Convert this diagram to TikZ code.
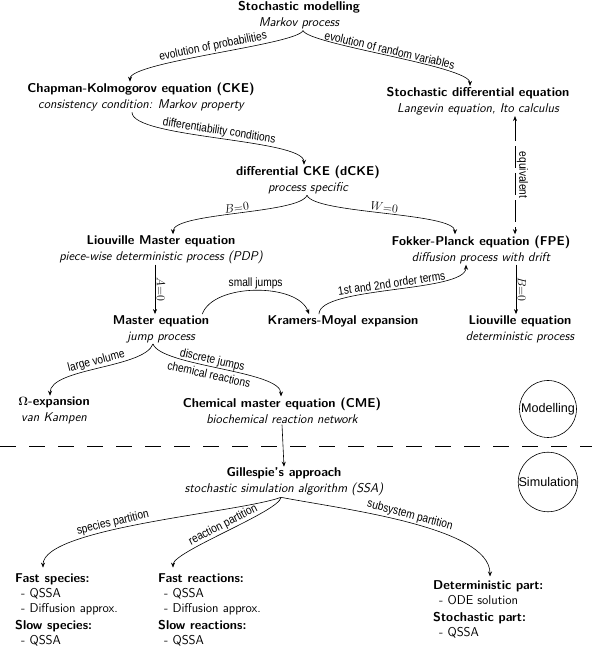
\documentclass[tikz,border=0pt]{standalone}
\usepackage[no-math]{fontspec}
\newfontfamily\lblfont[FakeStretch=0.85]{Liberation Sans}
\newfontfamily\circfont{Liberation Sans}
\usetikzlibrary{arrows.meta}
\newcommand\twoline[2]{{\bfseries #1}\\{\itshape #2}}
\begin{document}
\begin{tikzpicture}[x=1pt,y=1pt,
  every node/.style={inner sep=1pt},
  main/.style={align=center, font=\sffamily\fontsize{12.8}{16}\selectfont},
  lbl/.style={font=\lblfont\fontsize{12}{15.5}\selectfont, inner sep=1.5pt},
  mlbl/.style={font=\fontsize{12.5}{14}\selectfont, inner sep=1.5pt},
  arr/.style={-{Stealth[length=5pt,width=4pt]}, line width=0.6pt},
  circ/.style={circle, draw, line width=0.6pt, minimum size=57pt, inner sep=0pt, font=\circfont\fontsize{12.6}{14}\selectfont},
  lst/.style={align=left, anchor=north west, inner sep=0pt, font=\sffamily\fontsize{12.8}{15}\selectfont},
]
\useasboundingbox (0,0) rectangle (592,654);

\node[main] (sm) at (299,638.5) {\twoline{Stochastic modelling}{Markov process}};
\node[main] (cke) at (141,557) {\twoline{Chapman-Kolmogorov equation (CKE)}{consistency condition: Markov property}};
\node[main] (sde) at (478,553) {\twoline{Stochastic differential equation}{Langevin equation, Ito calculus}};
\node[main] (dcke) at (308,474) {\twoline{differential CKE (dCKE)}{process specific}};
\node[main] (lme) at (161,404.5) {\twoline{Liouville Master equation}{piece-wise deterministic process (PDP)}};
\node[main] (fpe) at (481,404.5) {\twoline{Fokker-Planck equation (FPE)}{diffusion process with drift}};
\node[main] (me) at (161,325) {\twoline{Master equation}{jump process}};
\node[main] (km) at (343,333) {\bfseries Kramers-Moyal expansion};
\node[main] (le) at (520,325) {\twoline{Liouville equation}{deterministic process}};
\node[main] (om) at (54,243.5) {\twoline{$\mathbf{\Omega}$-expansion}{van Kampen}};
\node[main] (cme) at (282,243.5) {\twoline{Chemical master equation (CME)}{biochemical reaction network}};
\node[main] (gil) at (284,172) {\twoline{Gillespie's approach}{stochastic simulation algorithm (SSA)}};

\node[circ] (mod) at (548,245) {Modelling};
\node[circ] (sim) at (548,172) {Simulation};

\coordinate (sepL) at (0,208);
\coordinate (sepR) at (592,208);
\draw[dash pattern=on 16pt off 13pt, line width=0.7pt] (sepL) -- (sepR);

\node[lst] (c1) at (15,80.4) {\textbf{Fast species:}\\\hspace*{6pt}- QSSA\\\hspace*{6pt}- Diffusion approx.\\[2pt]\textbf{Slow species:}\\\hspace*{6pt}- QSSA};
\node[lst] (c2) at (158,80.4) {\textbf{Fast reactions:}\\\hspace*{6pt}- QSSA\\\hspace*{6pt}- Diffusion approx.\\[2pt]\textbf{Slow reactions:}\\\hspace*{6pt}- QSSA};
\node[lst] (c3) at (433,73.5) {\textbf{Deterministic part:}\\\hspace*{6pt}- ODE solution\\[2pt]\textbf{Stochastic part:}\\\hspace*{6pt}- QSSA};

% top split
\draw[arr] ([xshift=4pt]sm.south) .. controls +(-110:15) and +(90:20) .. node[lbl,midway,above,sloped]{evolution of probabilities} ([xshift=-11pt]cke.north);
\draw[arr] ([xshift=4pt]sm.south) .. controls +(-70:15) and +(90:20) .. node[lbl,midway,above,sloped]{evolution of random variables} ([xshift=-8pt]sde.north);
% CKE -> dCKE
\draw[arr] ([xshift=-9pt]cke.south) .. controls +(-90:26) and +(90:26) .. node[lbl,midway,above,sloped]{differentiability conditions} ([xshift=-4pt]dcke.north);
% dCKE split
\draw[arr] ([xshift=-1pt]dcke.south) .. controls +(-110:20) and +(90:22) .. node[mlbl,midway,above,sloped]{$B{=}0$} ([xshift=12pt]lme.north);
\draw[arr] ([xshift=-1pt]dcke.south) .. controls +(-70:20) and +(90:22) .. node[mlbl,midway,above,sloped]{$W{=}0$} ([xshift=-26pt]fpe.north);
% verticals
\draw[arr] ([xshift=-6pt]lme.south) -- ([xshift=-6pt]lme.south |- me.north) node[mlbl,midway,anchor=south,rotate=-90]{$A{=}0$};
\draw[arr] ([xshift=-4pt]le.north |- fpe.south) -- ([xshift=-4pt]le.north) node[mlbl,midway,anchor=south,rotate=-90]{$B{=}0$};
\draw[line width=0.6pt, dash pattern=on 22pt off 5pt, {Stealth[length=5pt,width=4pt]}-{Stealth[length=5pt,width=4pt]}] ([xshift=37pt]sde.south) -- ([xshift=37pt]sde.south |- fpe.north) node[lbl,midway,anchor=south,rotate=-90]{equivalent};
% Master <-> KM <-> FPE
\draw[arr] ([xshift=-8pt]me.north east) to[out=70,in=110,looseness=0.8] node[lbl,midway,above,sloped]{small jumps} ([xshift=-34pt]km.north);
\draw[arr] ([xshift=-24pt]km.north) .. controls +(90:28) and +(-90:28) .. node[lbl,midway,above,sloped]{1st and 2nd order terms} ([xshift=-15pt]fpe.south);
% Master split
\draw[arr] ([xshift=-8pt]me.south) .. controls +(-110:26) and +(90:28) .. node[lbl,midway,above,sloped]{large volume} ([xshift=-4pt]om.north);
\draw[arr] ([xshift=-8pt]me.south) .. controls +(-70:24) and +(90:26) .. node[lbl,pos=0.45,sloped,align=center]{discrete jumps\\chemical reactions} ([xshift=-1pt]cme.north);
% CME -> Gillespie
\draw[arr] (cme.south) -- (gil.north);
% Gillespie split
\draw[arr] ([xshift=-3pt]gil.south) .. controls +(-160:45) and +(90:40) .. node[lbl,pos=0.6,above,sloped]{species partition} ([xshift=28pt,yshift=6pt]c1.north west);
\draw[arr] ([xshift=-3pt]gil.south) .. controls +(-95:14) and +(90:16) .. node[lbl,pos=0.5,above,sloped]{reaction partition} ([xshift=15pt,yshift=6pt]c2.north west);
\draw[arr] ([xshift=-3pt]gil.south) .. controls +(-11:61) and +(90:50) .. node[lbl,pos=0.5,above,sloped]{subsystem partition} ([xshift=57pt,yshift=4pt]c3.north west);
\end{tikzpicture}
\end{document}
